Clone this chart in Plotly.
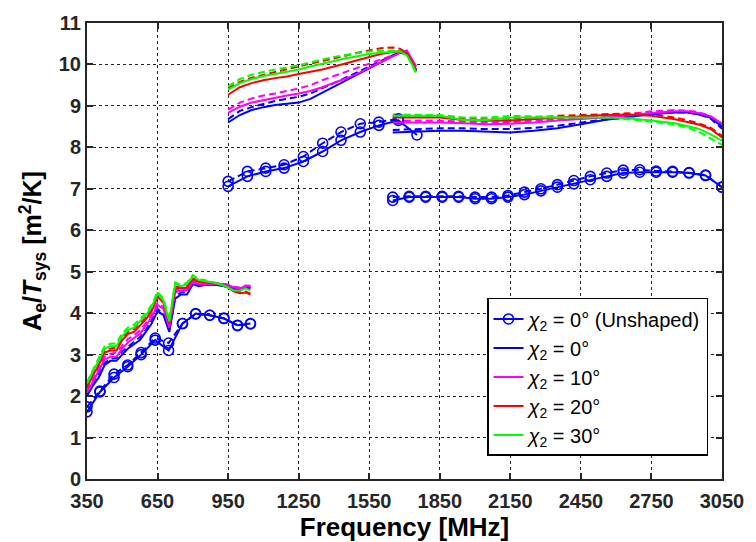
import plotly.graph_objects as go

# ---------------- data ----------------
LOW_F = [350, 375, 400, 425, 450, 475, 500, 525, 550, 575, 600, 625, 650, 675, 700,
         725, 750, 775, 800, 825, 850, 875, 900, 925, 950, 975, 1000, 1025, 1045]
blue_low_s = [2.00, 2.25, 2.45, 2.75, 2.85, 2.85, 3.00, 3.15, 3.25, 3.35, 3.55, 3.75, 4.05, 3.95, 3.55,
              4.35, 4.45, 4.45, 4.70, 4.65, 4.68, 4.68, 4.68, 4.66, 4.62, 4.58, 4.55, 4.62, 4.60]
blue_low_d = [2.05, 2.30, 2.55, 2.80, 2.90, 2.92, 3.08, 3.20, 3.30, 3.42, 3.60, 3.82, 4.10, 4.00, 3.60,
              4.40, 4.50, 4.52, 4.72, 4.67, 4.70, 4.70, 4.69, 4.67, 4.63, 4.60, 4.57, 4.63, 4.62]
mag_low_s = [2.08, 2.35, 2.60, 2.88, 2.95, 2.95, 3.15, 3.30, 3.40, 3.50, 3.70, 3.90, 4.20, 4.10, 3.65,
             4.50, 4.55, 4.55, 4.75, 4.70, 4.70, 4.70, 4.70, 4.70, 4.68, 4.62, 4.60, 4.65, 4.65]
mag_low_d = [2.12, 2.42, 2.68, 2.95, 3.02, 3.05, 3.22, 3.38, 3.46, 3.58, 3.76, 3.96, 4.25, 4.15, 3.70,
             4.55, 4.58, 4.60, 4.78, 4.72, 4.72, 4.72, 4.72, 4.71, 4.69, 4.64, 4.62, 4.67, 4.66]
red_low_s = [2.20, 2.50, 2.75, 3.05, 3.10, 3.10, 3.35, 3.50, 3.55, 3.70, 3.85, 4.05, 4.40, 4.25, 3.75,
             4.60, 4.60, 4.62, 4.82, 4.75, 4.75, 4.73, 4.72, 4.68, 4.62, 4.52, 4.48, 4.50, 4.45]
red_low_d = [2.24, 2.55, 2.80, 3.10, 3.15, 3.17, 3.40, 3.55, 3.62, 3.76, 3.90, 4.10, 4.44, 4.30, 3.78,
             4.64, 4.63, 4.66, 4.85, 4.77, 4.76, 4.74, 4.73, 4.69, 4.63, 4.54, 4.50, 4.52, 4.47]
grn_low_s = [2.30, 2.60, 2.85, 3.15, 3.20, 3.20, 3.45, 3.60, 3.65, 3.80, 3.95, 4.15, 4.48, 4.30, 3.80,
             4.70, 4.65, 4.70, 4.90, 4.80, 4.78, 4.75, 4.72, 4.68, 4.62, 4.55, 4.55, 4.60, 4.55]
grn_low_d = [2.34, 2.65, 2.92, 3.20, 3.26, 3.27, 3.52, 3.66, 3.72, 3.86, 4.00, 4.20, 4.52, 4.35, 3.84,
             4.74, 4.68, 4.73, 4.92, 4.82, 4.80, 4.76, 4.73, 4.69, 4.63, 4.57, 4.57, 4.62, 4.57]

UNSH_LOW_F = [350, 405, 465, 523, 580, 640, 697, 756, 812, 872, 932, 990, 1045]
unsh_low_s = [1.62, 2.10, 2.45, 2.71, 3.00, 3.35, 3.10, 3.75, 3.99, 3.95, 3.87, 3.71, 3.75]
unsh_low_d = [1.74, 2.12, 2.53, 2.75, 3.05, 3.40, 3.28, 3.75, 3.98, 3.95, 3.88, 3.70, 3.74]

MID_F = [950, 1000, 1050, 1100, 1150, 1200, 1250, 1300, 1350, 1400, 1450, 1500, 1550,
         1600, 1650, 1680, 1710, 1750]
blue_mid_s = [8.60, 8.78, 8.90, 8.97, 9.02, 9.05, 9.08, 9.17, 9.32, 9.47, 9.62, 9.77, 9.92,
              10.06, 10.20, 10.28, 10.25, 9.85]
blue_mid_d = [8.68, 8.88, 8.97, 9.05, 9.12, 9.17, 9.22, 9.30, 9.42, 9.55, 9.68, 9.82, 9.95,
              10.08, 10.22, 10.30, 10.26, 9.84]
mag_mid_s = [8.83, 8.98, 9.08, 9.14, 9.20, 9.25, 9.30, 9.36, 9.45, 9.55, 9.66, 9.78, 9.92,
             10.06, 10.20, 10.28, 10.34, 9.95]
mag_mid_d = [8.91, 9.08, 9.18, 9.25, 9.30, 9.36, 9.42, 9.50, 9.62, 9.72, 9.82, 9.92, 10.02,
             10.12, 10.22, 10.28, 10.32, 9.92]
red_mid_s = [9.27, 9.45, 9.55, 9.62, 9.67, 9.71, 9.77, 9.82, 9.88, 9.95, 10.02, 10.10, 10.18,
             10.25, 10.30, 10.32, 10.28, 9.88]
red_mid_d = [9.43, 9.58, 9.68, 9.75, 9.82, 9.88, 9.95, 10.02, 10.08, 10.15, 10.22, 10.28, 10.34,
             10.39, 10.41, 10.38, 10.28, 9.85]
grn_mid_s = [9.39, 9.55, 9.65, 9.72, 9.77, 9.82, 9.88, 9.95, 10.02, 10.08, 10.15, 10.20, 10.25,
             10.28, 10.31, 10.32, 10.22, 9.82]
grn_mid_d = [9.47, 9.65, 9.75, 9.82, 9.88, 9.93, 9.98, 10.05, 10.12, 10.18, 10.23, 10.27, 10.31,
             10.33, 10.34, 10.33, 10.25, 9.78]

UNSH_MID_F_S = [950, 1032, 1110, 1188, 1270, 1352, 1430, 1512, 1591, 1674, 1753]
unsh_mid_s = [7.06, 7.30, 7.42, 7.50, 7.66, 7.90, 8.17, 8.37, 8.53, 8.65, 8.30]
UNSH_MID_F_D = [950, 1032, 1110, 1188, 1270, 1352, 1430, 1512, 1591, 1674]
unsh_mid_d = [7.18, 7.42, 7.50, 7.58, 7.78, 8.10, 8.37, 8.57, 8.61, 8.69]

HIGH_F = [1650, 1750, 1850, 1950, 2050, 2150, 2250, 2350, 2450, 2550, 2650, 2750, 2850,
          2900, 2950, 3000, 3050]
blue_high_s = [8.36, 8.38, 8.40, 8.40, 8.38, 8.36, 8.40, 8.46, 8.56, 8.66, 8.73, 8.80, 8.84,
               8.84, 8.80, 8.72, 8.50]
blue_high_d = [8.42, 8.44, 8.46, 8.46, 8.44, 8.44, 8.47, 8.52, 8.60, 8.68, 8.75, 8.82, 8.85,
               8.85, 8.80, 8.70, 8.45]
mag_high_s = [8.60, 8.60, 8.60, 8.58, 8.56, 8.57, 8.60, 8.65, 8.68, 8.72, 8.77, 8.83, 8.87,
              8.87, 8.83, 8.75, 8.58]
mag_high_d = [8.64, 8.64, 8.64, 8.62, 8.60, 8.61, 8.64, 8.68, 8.71, 8.75, 8.80, 8.87, 8.90,
              8.89, 8.85, 8.76, 8.56]
red_high_s = [8.72, 8.72, 8.72, 8.66, 8.64, 8.65, 8.68, 8.72, 8.75, 8.78, 8.79, 8.76, 8.68,
              8.62, 8.55, 8.45, 8.24]
red_high_d = [8.76, 8.76, 8.76, 8.70, 8.68, 8.70, 8.72, 8.76, 8.78, 8.81, 8.82, 8.80, 8.72,
              8.66, 8.58, 8.48, 8.28]
grn_high_s = [8.76, 8.76, 8.76, 8.66, 8.66, 8.72, 8.72, 8.72, 8.72, 8.72, 8.70, 8.65, 8.58,
              8.52, 8.45, 8.32, 8.16]
grn_high_d = [8.79, 8.78, 8.78, 8.72, 8.72, 8.76, 8.75, 8.74, 8.72, 8.70, 8.68, 8.62, 8.55,
              8.48, 8.38, 8.22, 8.06]

UNSH_HIGH_F = [1650, 1720, 1790, 1860, 1930, 2000, 2070, 2140, 2210, 2280, 2350, 2420, 2490,
               2560, 2630, 2700, 2770, 2840, 2910, 2980, 3050]
unsh_high_s = [6.72, 6.80, 6.80, 6.80, 6.80, 6.76, 6.76, 6.80, 6.86, 6.95, 7.04, 7.12, 7.22,
               7.30, 7.38, 7.40, 7.40, 7.40, 7.38, 7.32, 7.04]
unsh_high_d = [6.80, 6.82, 6.82, 6.82, 6.82, 6.80, 6.80, 6.84, 6.92, 7.00, 7.10, 7.20, 7.30,
               7.38, 7.45, 7.46, 7.43, 7.42, 7.39, 7.33, 7.04]

X_TICKS = [350, 650, 950, 1250, 1550, 1850, 2150, 2450, 2750, 3050]
Y_TICKS = list(range(0, 12))

BLUE, MAG, RED, GRN = "#0000ff", "#ff00ff", "#ff0000", "#00ff00"
DASH = "7px,4px"


def join(*parts):
    xs, ys = [], []
    for i, (x, y) in enumerate(parts):
        if i:
            xs.append(None)
            ys.append(None)
        xs += list(x)
        ys += list(y)
    return xs, ys


fig = go.Figure()

# dashed (second polarisation) series, not in legend
for color, lo, mi, hi in [(BLUE, blue_low_d, blue_mid_d, blue_high_d),
                          (MAG, mag_low_d, mag_mid_d, mag_high_d),
                          (RED, red_low_d, red_mid_d, red_high_d),
                          (GRN, grn_low_d, grn_mid_d, grn_high_d)]:
    x, y = join((LOW_F, lo), (MID_F, mi), (HIGH_F, hi))
    fig.add_trace(go.Scatter(x=x, y=y, mode="lines", showlegend=False,
                             line=dict(color=color, width=2, dash=DASH)))

x, y = join((UNSH_LOW_F, unsh_low_d), (UNSH_MID_F_D, unsh_mid_d), (UNSH_HIGH_F, unsh_high_d))
fig.add_trace(go.Scatter(x=x, y=y, mode="lines+markers", showlegend=False,
                         line=dict(color=BLUE, width=2, dash=DASH),
                         marker=dict(symbol="circle-open", size=10, color=BLUE,
                                     line=dict(width=1.6, color=BLUE))))

# solid series
x, y = join((UNSH_LOW_F, unsh_low_s), (UNSH_MID_F_S, unsh_mid_s), (UNSH_HIGH_F, unsh_high_s))
fig.add_trace(go.Scatter(x=x, y=y, mode="lines+markers",
                         name="<i>χ</i><sub>2</sub> = 0° (Unshaped)",
                         line=dict(color=BLUE, width=2),
                         marker=dict(symbol="circle-open", size=10, color=BLUE,
                                     line=dict(width=1.6, color=BLUE))))

for name, color, lo, mi, hi in [("<i>χ</i><sub>2</sub> = 0°", BLUE, blue_low_s, blue_mid_s, blue_high_s),
                                ("<i>χ</i><sub>2</sub> = 10°", MAG, mag_low_s, mag_mid_s, mag_high_s),
                                ("<i>χ</i><sub>2</sub> = 20°", RED, red_low_s, red_mid_s, red_high_s),
                                ("<i>χ</i><sub>2</sub> = 30°", GRN, grn_low_s, grn_mid_s, grn_high_s)]:
    x, y = join((LOW_F, lo), (MID_F, mi), (HIGH_F, hi))
    fig.add_trace(go.Scatter(x=x, y=y, mode="lines", name=name,
                             line=dict(color=color, width=2)))

AX = "#262626"
FONT = "Liberation Sans, Arial, sans-serif"

fig.update_layout(
    width=756, height=542,
    margin=dict(l=87, r=25, t=17, b=60),
    paper_bgcolor="white", plot_bgcolor="white",
    font=dict(family=FONT, color=AX, size=20),
    showlegend=True,
    legend=dict(x=0.978, y=0.397, xanchor="right", yanchor="top",
                bgcolor="white", bordercolor="black", borderwidth=1.5,
                font=dict(family=FONT, size=20, color="black"),
                tracegroupgap=0, itemwidth=30),
    xaxis=dict(range=[350, 3050], tickvals=X_TICKS, ticktext=[f"<b>{v}</b>" for v in X_TICKS],
               showgrid=True, gridcolor="#222", griddash="dot", gridwidth=1,
               showline=True, linecolor=AX, linewidth=2, mirror="ticks",
               ticks="inside", ticklen=6, tickcolor=AX, tickwidth=1.5,
               tickfont=dict(size=20, family=FONT, color=AX), zeroline=False,
               ticklabelstandoff=3,
               title=dict(text="<b>Frequency [MHz]</b>", font=dict(size=26, family=FONT, color="black"),
                          standoff=0)),
    yaxis=dict(range=[0, 11], tickvals=Y_TICKS, ticktext=[f"<b>{v}</b>" for v in Y_TICKS],
               showgrid=True, gridcolor="#222", griddash="dot", gridwidth=1,
               showline=True, linecolor=AX, linewidth=2, mirror="ticks",
               ticks="inside", ticklen=6, tickcolor=AX, tickwidth=1.5,
               tickfont=dict(size=20, family=FONT, color=AX), zeroline=False,
               title=dict(text="<b>A<sub>e</sub>/<i>T</i><sub>sys</sub> [m<sup>2</sup>/K]</b>",
                          font=dict(size=25, family=FONT, color="black"), standoff=10)),
)

fig.write_html("out.html")
